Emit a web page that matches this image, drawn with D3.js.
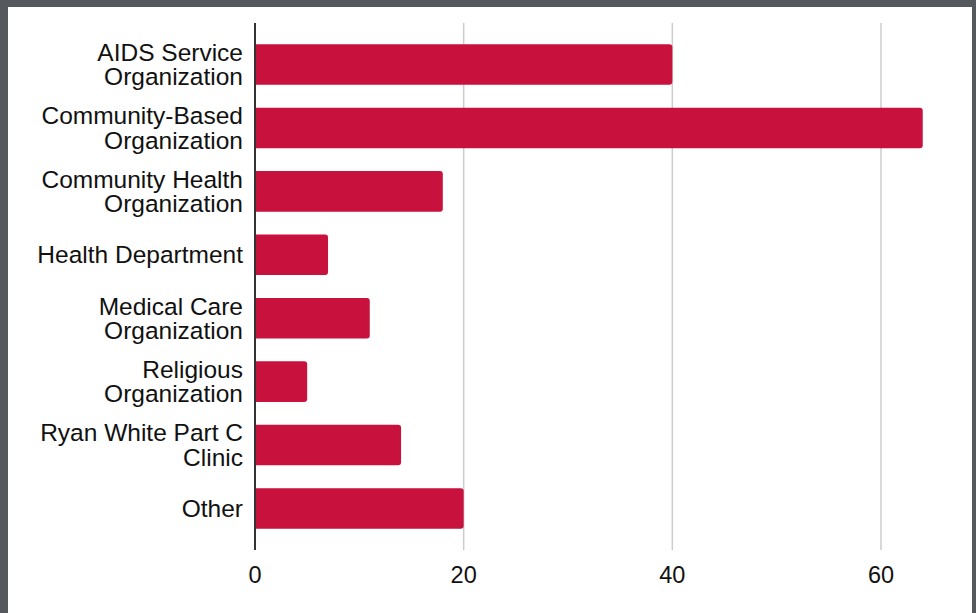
<!DOCTYPE html>
<html>
<head>
<meta charset="utf-8">
<script src="https://cdn.jsdelivr.net/npm/d3@7"></script>
<style>
  html, body { margin: 0; padding: 0; background: #55585d; }
  svg { display: block; }
</style>
</head>
<body>
<svg id="chart" width="976" height="613"></svg>
<script>
// Organisation types and counts
const categories = [
  "AIDS Service Organization",
  "Community-Based Organization",
  "Community Health Organization",
  "Health Department",
  "Medical Care Organization",
  "Religious Organization",
  "Ryan White Part C Clinic",
  "Other"
];
// Label text broken over lines
const labelLines = [
  ["AIDS Service", "Organization"],
  ["Community-Based", "Organization"],
  ["Community Health", "Organization"],
  ["Health Department"],
  ["Medical Care", "Organization"],
  ["Religious", "Organization"],
  ["Ryan White Part C", "Clinic"],
  ["Other"]
];
const counts = [40, 64, 18, 7, 11, 5, 14, 20];
const tickValues = [0, 20, 40, 60];

const svg = d3.select("#chart");
const W = 976, H = 613;

// white panel inside the dark frame
svg.append("rect")
  .attr("x", 8).attr("y", 7)
  .attr("width", 964).attr("height", H - 7)
  .attr("fill", "#ffffff");

const x = d3.scaleLinear().domain([0, 60]).range([255, 881]);
const y = d3.scaleBand()
  .domain(categories)
  .range([23, 550])
  .paddingInner(0.36)
  .paddingOuter(0.335);

const font = "'Liberation Sans', Arial, Helvetica, sans-serif";

// vertical gridlines
svg.append("g")
  .selectAll("line")
  .data(tickValues.filter(d => d !== 0))
  .join("line")
  .attr("x1", d => x(d)).attr("x2", d => x(d))
  .attr("y1", 23).attr("y2", 550)
  .attr("stroke", "#cccccc")
  .attr("stroke-width", 1.5);

// bars with rounded right end
const r = 3;
function barPath(v, cat) {
  const x0 = x(0), x1 = x(v);
  const y0 = y(cat), h = y.bandwidth();
  return `M${x0},${y0}H${x1 - r}Q${x1},${y0} ${x1},${y0 + r}` +
         `V${y0 + h - r}Q${x1},${y0 + h} ${x1 - r},${y0 + h}H${x0}Z`;
}
svg.append("g")
  .selectAll("path")
  .data(categories)
  .join("path")
  .attr("d", (c, i) => barPath(counts[i], c))
  .attr("fill", "#c8113c");

// zero axis line
svg.append("line")
  .attr("x1", x(0)).attr("x2", x(0))
  .attr("y1", 23).attr("y2", 550)
  .attr("stroke", "#333333")
  .attr("stroke-width", 2);

// category labels
const fs = 24.5, lh = 24.5;
const labels = svg.append("g")
  .attr("font-family", font)
  .attr("font-size", fs)
  .attr("fill", "#111111")
  .attr("text-anchor", "end");
categories.forEach((c, i) => {
  const lines = labelLines[i];
  const cy = y(c) + y.bandwidth() / 2;
  const first = cy - (lines.length - 1) * lh / 2 + fs * 0.35;
  lines.forEach((t, j) => {
    labels.append("text")
      .attr("x", 243)
      .attr("y", first + j * lh)
      .text(t);
  });
});

// x tick labels
svg.append("g")
  .attr("font-family", font)
  .attr("font-size", 23.5)
  .attr("fill", "#111111")
  .attr("text-anchor", "middle")
  .selectAll("text")
  .data(tickValues)
  .join("text")
  .attr("x", d => x(d))
  .attr("y", 582.5)
  .text(d => d);
</script>
</body>
</html>
